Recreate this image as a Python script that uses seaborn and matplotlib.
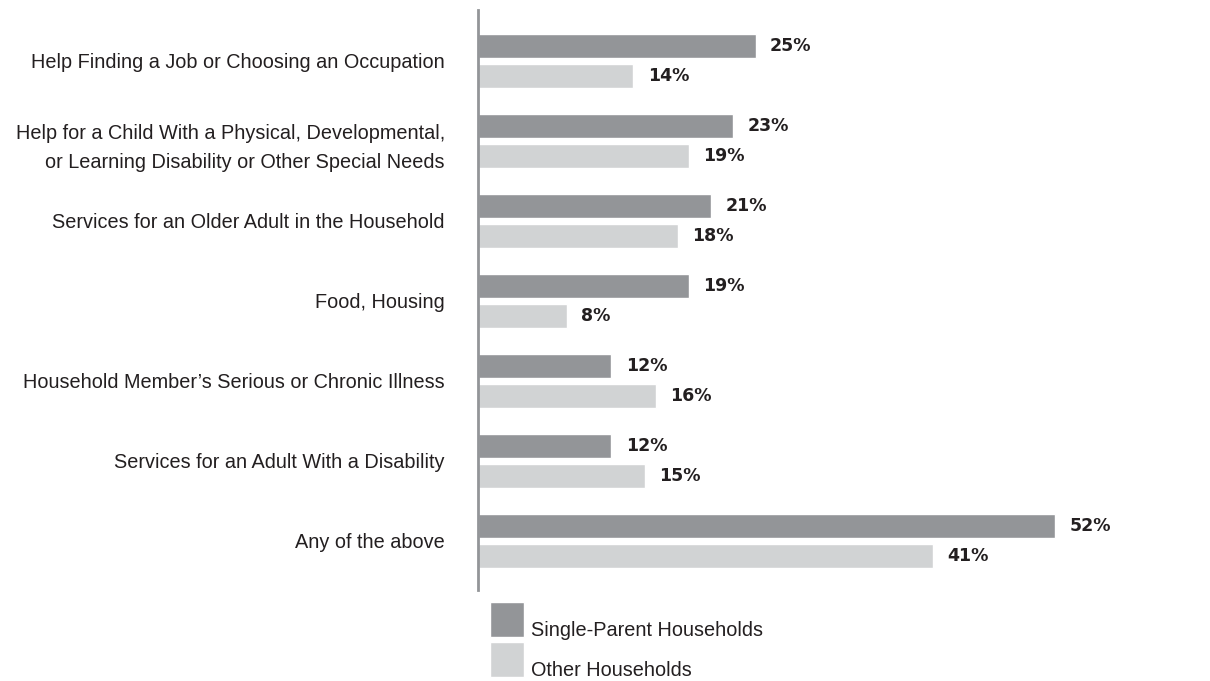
import matplotlib
matplotlib.use("Agg")
import matplotlib.pyplot as plt
import seaborn as sns
import pandas as pd

categories = [
    "Help Finding a Job or Choosing an Occupation",
    "Help for a Child With a Physical, Developmental,\nor Learning Disability or Other Special Needs",
    "Services for an Older Adult in the Household",
    "Food, Housing",
    "Household Member\u2019s Serious or Chronic Illness",
    "Services for an Adult With a Disability",
    "Any of the above",
]
single_parent = [25, 23, 21, 19, 12, 12, 52]
other = [14, 19, 18, 8, 16, 15, 41]
series_names = ["Single-Parent Households", "Other Households"]
colors = ["#939598", "#d1d3d4"]

df = pd.DataFrame({
    "category": categories * 2,
    "value": single_parent + other,
    "group": [series_names[0]] * len(categories) + [series_names[1]] * len(categories),
})

sns.set_style("white")
plt.rcParams["font.family"] = ["Liberation Sans", "DejaVu Sans"]

fig = plt.figure(figsize=(12.1, 6.81), dpi=100)
W, H = 1210, 681
ax = fig.add_axes([478 / W, 1 - 590 / H, (1200 - 478) / W, (590 - 10) / H])

sns.barplot(data=df, y="category", x="value", hue="group", orient="h",
            palette=colors, width=0.75, gap=0.18, ax=ax, legend=True,
            saturation=1)

ax.set_xlim(0, (1200 - 478) / 11.1)
ax.set_ylim(6.6125, -0.6375)
for s in ["top", "right", "bottom"]:
    ax.spines[s].set_visible(False)
ax.spines["left"].set_color("#939598")
ax.spines["left"].set_linewidth(2)
ax.set_xticks([])
ax.set_xlabel("")
ax.set_ylabel("")
ax.tick_params(axis="y", length=0, pad=23.8, labelsize=14.3, labelcolor="#231f20")
for t in ax.get_yticklabels():
    t.set_horizontalalignment("right")
    t.set_multialignment("right")
    t.set_linespacing(1.66)

for cont in ax.containers:
    vals = [int(round(b.get_width())) for b in cont]
    ax.bar_label(cont, labels=[f"{v}%" for v in vals], padding=10.5,
                 fontsize=12.5, fontweight="bold", color="#231f20",
                 family="DejaVu Sans")

handles, labels = ax.get_legend_handles_labels()
leg = ax.legend(handles, labels, loc="upper left",
                bbox_to_anchor=(490 / W, 1 - 602 / H), bbox_transform=fig.transFigure,
                frameon=False, fontsize=14.3, handlelength=1.71, handleheight=2.33,
                handletextpad=0.35, labelspacing=0.25, borderpad=0, borderaxespad=0,
                labelcolor="#231f20")
for t in leg.get_texts():
    t.set_position((0, -10))

fig.savefig("out.png", dpi=100)
